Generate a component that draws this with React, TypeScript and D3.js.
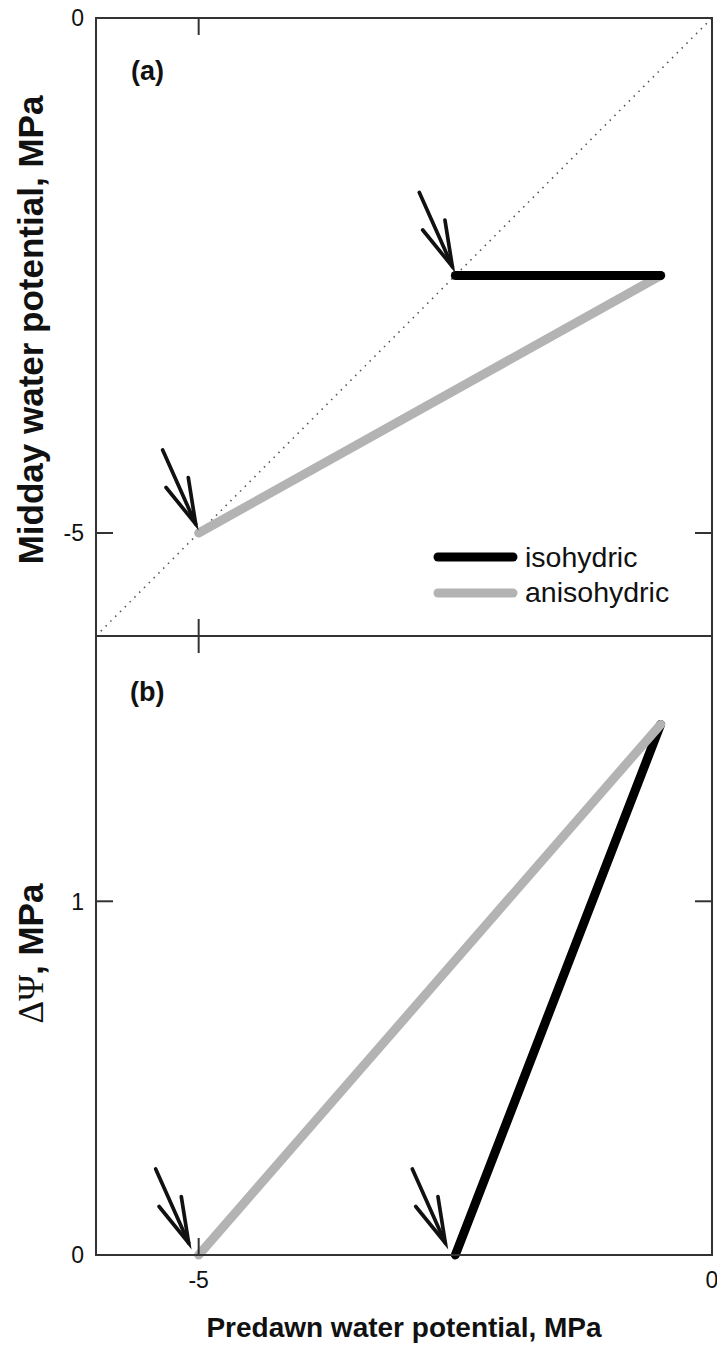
import React from "react";
import * as d3 from "d3";

// Predawn / midday water potential (MPa) for the two strategies
const predawnIso = [-2.5, -0.5];
const middayIso = [-2.5, -2.5];
const predawnAniso = [-5, -0.5];
const middayAniso = [-5, -2.5];

// Predawn - midday difference (MPa)
const deltaIso = [0, 1.5];
const deltaAniso = [0, 1.5];

// Axis ticks
const xTicks = [-5, 0];
const yTicksA = [0, -5];
const yTicksB = [0, 1];

// Points marked with arrows (predawn, value)
const arrowsA: [number, number][] = [[-2.5, -2.5], [-5, -5]];
const arrowsB: [number, number][] = [[-5, 0], [-2.5, 0]];

const legendLabels = ["isohydric", "anisohydric"];

const W = 717;
const H = 1352;
const LEFT = 96;
const RIGHT = 712;
const TOP_A = 18;
const MID = 636;
const BOT_B = 1255;

const SANS = "'Liberation Sans', Arial, Helvetica, sans-serif";
const SERIF = "'Liberation Serif', 'Times New Roman', serif";
const GRAY = "#b3b3b3";
const FRAME = "#333";
const TICK = 17;

const x = d3.scaleLinear().domain([-6, 0]).range([LEFT, RIGHT]);
const ya = d3.scaleLinear().domain([-6, 0]).range([MID, TOP_A]);
const yb = d3.scaleLinear().domain([0, 1.75]).range([BOT_B, MID]);

function Arrow({ px, py, dx, dy }: { px: number; py: number; dx: number; dy: number }) {
  const tipX = px + dx;
  const tipY = py + dy;
  const tailX = tipX - 33;
  const tailY = tipY - 74;
  const ang = Math.atan2(tailY - tipY, tailX - tipX);
  const hl = 47;
  const ha = (15 * Math.PI) / 180;
  const h1 = [tipX + hl * Math.cos(ang + ha), tipY + hl * Math.sin(ang + ha)];
  const h2 = [tipX + hl * Math.cos(ang - ha), tipY + hl * Math.sin(ang - ha)];
  return (
    <g stroke="#111" strokeWidth={3.7} fill="none" strokeLinecap="round" strokeLinejoin="miter">
      <line x1={tailX} y1={tailY} x2={tipX} y2={tipY} />
      <polyline points={`${h1[0]},${h1[1]} ${tipX},${tipY} ${h2[0]},${h2[1]}`} />
    </g>
  );
}

export default function App() {
  const lineA = d3
    .line<[number, number]>()
    .x((d) => x(d[0]))
    .y((d) => ya(d[1]));
  const lineB = d3
    .line<[number, number]>()
    .x((d) => x(d[0]))
    .y((d) => yb(d[1]));

  const isoA = predawnIso.map((p, i) => [p, middayIso[i]] as [number, number]);
  const anisoA = predawnAniso.map((p, i) => [p, middayAniso[i]] as [number, number]);
  const isoB = predawnIso.map((p, i) => [p, deltaIso[i]] as [number, number]);
  const anisoB = predawnAniso.map((p, i) => [p, deltaAniso[i]] as [number, number]);

  const tickFont = 23;
  const labelX = 84;
  const yTitleFont = 35;

  return (
    <svg
      width={W}
      height={H}
      viewBox={`0 0 ${W} ${H}`}
      style={{ position: "absolute", left: 0, top: 0, display: "block", background: "#fff" }}
    >
      {/* ---------- panel (a) ---------- */}
      <line
        x1={x(-6)}
        y1={ya(-6)}
        x2={x(0)}
        y2={ya(0)}
        stroke="#555"
        strokeWidth={1.6}
        strokeDasharray="1.5 5.3"
      />
      <path d={lineA(anisoA) || ""} stroke={GRAY} strokeWidth={9} fill="none" strokeLinecap="round" />
      <path d={lineA(isoA) || ""} stroke="#000" strokeWidth={9} fill="none" strokeLinecap="round" />

      {arrowsA.map(([px, py], i) => (
        <Arrow key={`aa${i}`} px={x(px)} py={ya(py)} dx={-3} dy={-9} />
      ))}

      {/* legend */}
      <g>
        <line x1={RIGHT - 274} y1={557} x2={RIGHT - 199} y2={557} stroke="#000" strokeWidth={9} strokeLinecap="round" />
        <line x1={RIGHT - 274} y1={593} x2={RIGHT - 199} y2={593} stroke={GRAY} strokeWidth={9} strokeLinecap="round" />
        {legendLabels.map((t, i) => (
          <text key={t} x={RIGHT - 187} y={567 + i * 35} fontFamily={SANS} fontSize={28.5} fill="#111">
            {t}
          </text>
        ))}
      </g>

      <text x={131} y={80} fontFamily={SANS} fontWeight="bold" fontSize={27} fill="#111">
        (a)
      </text>

      {/* ticks panel (a) */}
      {yTicksA.map((t) => (
        <g key={`ya${t}`}>
          <line x1={LEFT} x2={LEFT + TICK} y1={ya(t)} y2={ya(t)} stroke={FRAME} strokeWidth={2} />
          <line x1={RIGHT} x2={RIGHT - TICK} y1={ya(t)} y2={ya(t)} stroke={FRAME} strokeWidth={2} />
          <text x={labelX} y={ya(t)} dy="0.36em" textAnchor="end" fontFamily={SANS} fontSize={tickFont} fill="#111">
            {t}
          </text>
        </g>
      ))}
      {xTicks.map((t) => (
        <g key={`xa${t}`}>
          <line x1={x(t)} x2={x(t)} y1={TOP_A} y2={TOP_A + TICK} stroke={FRAME} strokeWidth={2} />
          <line x1={x(t)} x2={x(t)} y1={MID} y2={MID - TICK} stroke={FRAME} strokeWidth={2} />
        </g>
      ))}
      <rect x={LEFT} y={TOP_A} width={RIGHT - LEFT} height={MID - TOP_A} fill="none" stroke={FRAME} strokeWidth={2} />

      {/* ---------- panel (b) ---------- */}
      <path d={lineB(isoB) || ""} stroke="#000" strokeWidth={9} fill="none" strokeLinecap="round" />
      <path d={lineB(anisoB) || ""} stroke={GRAY} strokeWidth={9} fill="none" strokeLinecap="round" />

      {arrowsB.map(([px, py], i) => (
        <Arrow key={`ab${i}`} px={x(px)} py={yb(py)} dx={-10} dy={-12} />
      ))}

      <text x={130} y={701} fontFamily={SANS} fontWeight="bold" fontSize={27} fill="#111">
        (b)
      </text>

      {yTicksB.map((t) => (
        <g key={`yb${t}`}>
          <line x1={LEFT} x2={LEFT + TICK} y1={yb(t)} y2={yb(t)} stroke={FRAME} strokeWidth={2} />
          <line x1={RIGHT} x2={RIGHT - TICK} y1={yb(t)} y2={yb(t)} stroke={FRAME} strokeWidth={2} />
          <text x={labelX} y={yb(t)} dy="0.36em" textAnchor="end" fontFamily={SANS} fontSize={tickFont} fill="#111">
            {t}
          </text>
        </g>
      ))}
      {xTicks.map((t) => (
        <g key={`xb${t}`}>
          <line x1={x(t)} x2={x(t)} y1={MID} y2={MID + TICK} stroke={FRAME} strokeWidth={2} />
          <line x1={x(t)} x2={x(t)} y1={BOT_B} y2={BOT_B - TICK} stroke={FRAME} strokeWidth={2} />
          <text x={x(t)} y={1288} textAnchor="middle" fontFamily={SANS} fontSize={tickFont} fill="#111">
            {t}
          </text>
        </g>
      ))}
      <rect x={LEFT} y={MID} width={RIGHT - LEFT} height={BOT_B - MID} fill="none" stroke={FRAME} strokeWidth={2} />

      {/* axis titles */}
      <text
        x={(LEFT + RIGHT) / 2}
        y={1337}
        textAnchor="middle"
        fontFamily={SANS}
        fontWeight="bold"
        fontSize={28}
        fill="#111"
      >
        Predawn water potential, MPa
      </text>
      <text
        transform={`translate(43, ${(TOP_A + MID) / 2 + 3}) rotate(-90)`}
        textAnchor="middle"
        fontFamily={SANS}
        fontWeight="bold"
        fontSize={yTitleFont}
        fill="#111"
      >
        Midday water potential, MPa
      </text>
      <text
        transform={`translate(43, ${(MID + BOT_B) / 2 + 8}) rotate(-90)`}
        textAnchor="middle"
        fontFamily={SANS}
        fontSize={yTitleFont}
        fill="#111"
      >
        <tspan fontFamily={SERIF}>ΔΨ</tspan>
        <tspan fontWeight="bold">, MPa</tspan>
      </text>
    </svg>
  );
}
